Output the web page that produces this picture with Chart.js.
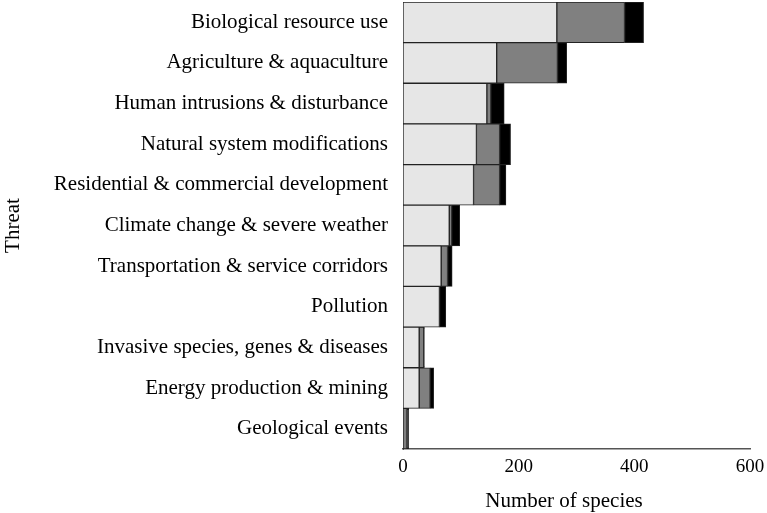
<!DOCTYPE html>
<html>
<head>
<meta charset="utf-8">
<script src="https://cdn.jsdelivr.net/npm/chart.js@4/dist/chart.umd.min.js"></script>
<style>
  html, body { margin: 0; padding: 0; background: #fff; }
  #wrap { width: 767px; height: 513px; }
</style>
</head>
<body>
<div id="wrap"><canvas id="threat_chart"></canvas></div>
<script>
const threats = [
  "Biological resource use",
  "Agriculture & aquaculture",
  "Human intrusions & disturbance",
  "Natural system modifications",
  "Residential & commercial development",
  "Climate change & severe weather",
  "Transportation & service corridors",
  "Pollution",
  "Invasive species, genes & diseases",
  "Energy production & mining",
  "Geological events",
];
const lightPart = [266, 162, 145, 127, 122, 80, 66, 63, 28, 28, 0];
const greyPart = [117, 105, 7, 40, 45, 4, 11, 0, 8, 19, 7];
const blackPart = [33, 16, 23, 19, 11, 14, 8, 11, 1, 6, 3];
const xTicks = [0, 200, 400, 600];

const serif = "'Liberation Serif', 'Times New Roman', serif";

// x-axis title sits a bit left of the plot centre in the original
const xTitle = {
  id: "xTitle",
  afterDraw(chart) {
    const c = chart.ctx;
    const a = chart.chartArea;
    c.save();
    c.font = "21px " + serif;
    c.fillStyle = "#000";
    c.textAlign = "center";
    c.textBaseline = "alphabetic";
    c.fillText("Number of species", a.left + (a.right - a.left) * 0.464, a.bottom + 58);
    c.restore();
  },
};

const ctx = document.getElementById("threat_chart");

new Chart(ctx, {
  type: "bar",
  data: {
    labels: threats,
    datasets: [
      { data: lightPart, backgroundColor: "#e6e6e6" },
      { data: greyPart, backgroundColor: "#808080" },
      { data: blackPart, backgroundColor: "#000000" },
    ].map((d) => ({
      ...d,
      borderColor: "#222",
      borderWidth: 1,
      borderSkipped: false,
      barPercentage: 1,
      categoryPercentage: 1,
    })),
  },
  plugins: [xTitle],
  options: {
    indexAxis: "y",
    responsive: true,
    maintainAspectRatio: false,
    animation: false,
    layout: { padding: { top: 2, right: 17, bottom: 0, left: 0 } },
    plugins: {
      legend: { display: false },
      tooltip: { enabled: false },
    },
    scales: {
      x: {
        stacked: true,
        min: 0,
        max: 600,
        afterBuildTicks: (axis) => {
          axis.ticks = xTicks.map((v) => ({ value: v }));
        },
        afterFit: (axis) => {
          axis.height = 64;
          axis.paddingLeft = 0;
          axis.paddingRight = 0;
        },
        grid: { display: false, drawTicks: false },
        border: { display: true, color: "#555", width: 1.5 },
        ticks: { color: "#000", padding: 7, maxRotation: 0, font: { family: serif, size: 19 } },
      },
      y: {
        stacked: true,
        afterFit: (axis) => {
          axis.width = 403;
          axis.paddingTop = 0;
          axis.paddingBottom = 0;
        },
        grid: { display: false, drawTicks: false },
        border: { display: true, color: "#555", width: 1 },
        ticks: { color: "#000", padding: 15, autoSkip: false, font: { family: serif, size: 21 } },
        title: { display: true, text: "Threat", color: "#000", padding: { top: 1, bottom: 10 }, font: { family: serif, size: 21 } },
      },
    },
  },
});
</script>
</body>
</html>
